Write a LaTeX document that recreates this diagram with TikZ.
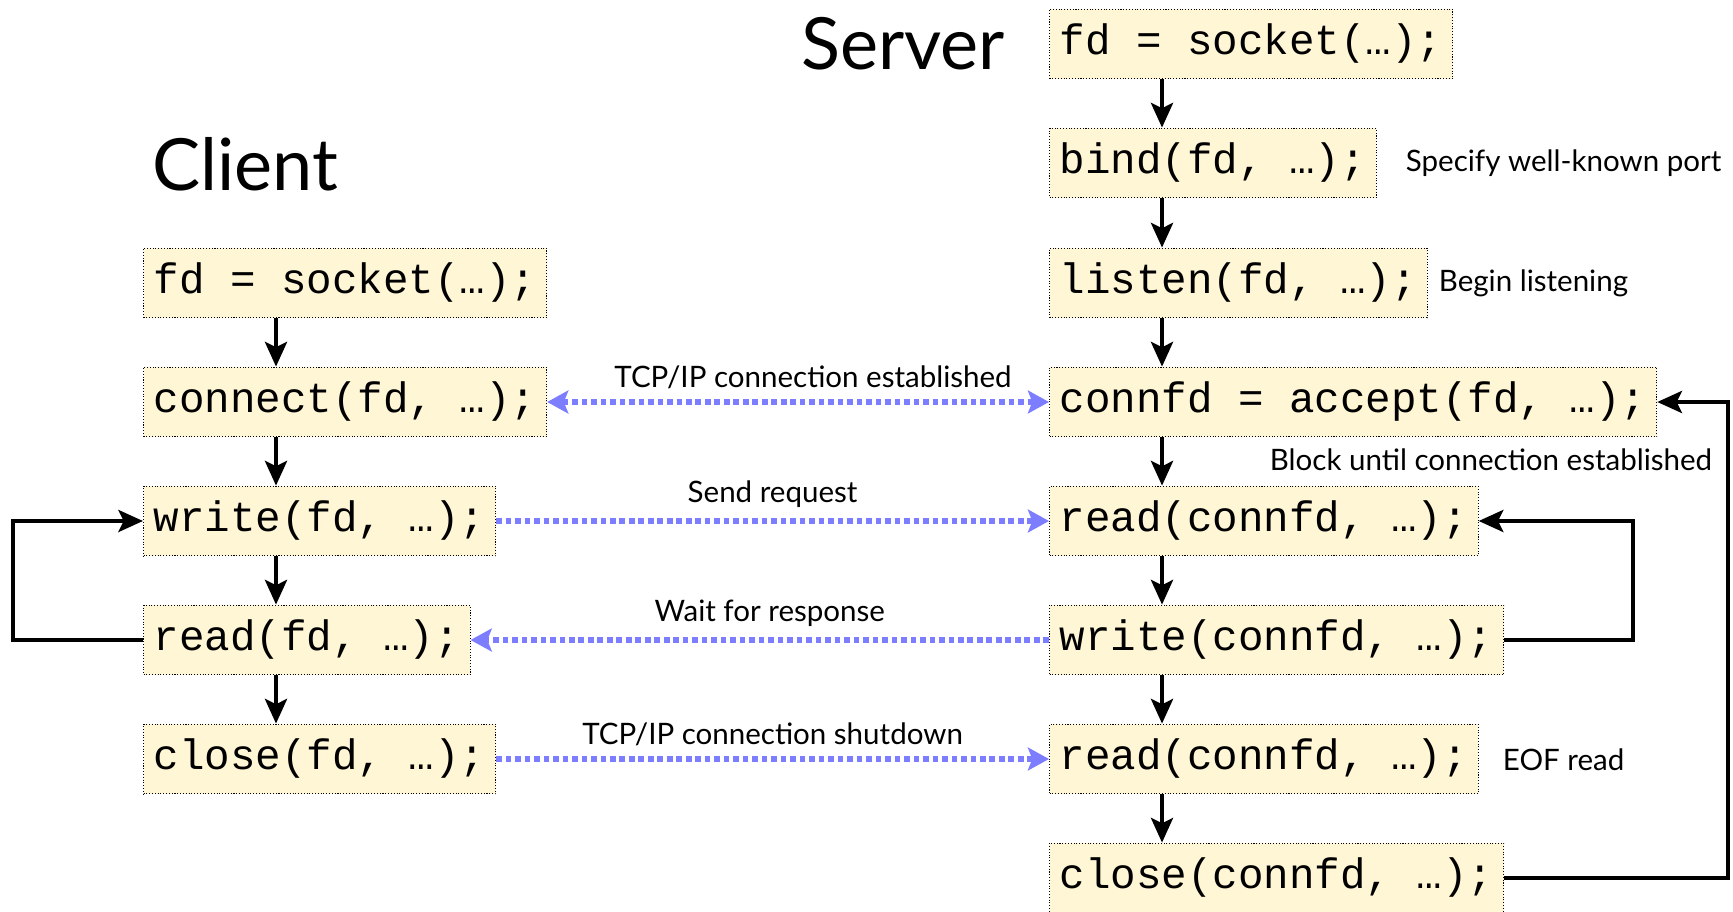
\documentclass[tikz,border=0pt]{standalone}
\usepackage{fontspec}
\setmainfont{Lato}
\setmonofont{Liberation Mono}
\usetikzlibrary{arrows.meta}
\definecolor{boxfill}{RGB}{255,246,214}
\definecolor{linkblue}{RGB}{125,125,255}
\tikzset{nethead/.tip={Stealth[length=12pt,width=13pt,inset=2.5pt]}}
\begin{document}
\begin{tikzpicture}[x=0.02cm,y=-0.02cm,
        callbox/.style={draw,densely dotted,line width=0.6pt,fill=boxfill,anchor=west,
            inner xsep=5.8pt,inner ysep=0pt,minimum height=39.7pt,
            text height=16pt,text depth=4pt,
            font=\ttfamily\fontsize{24.2}{28}\selectfont},
        callarrow/.style={line width=2.5pt,-{Stealth[length=14pt,width=12.5pt,inset=3pt]}},
        netlink/.style={linkblue,line width=3pt,dash pattern=on 3.2pt off 2.2pt},
        sidenote/.style={font=\fontsize{16.8}{20}\selectfont,inner sep=2pt},
        headlabel/.style={font=\fontsize{41}{48}\selectfont}]
        \useasboundingbox (0,0) rectangle (1733,912);
        \node[headlabel] (server) at (903,44) {Server};
        \node[headlabel] (client) at (245,164) {Client};
        \node[callbox] (csocket) at (143,283) {fd = socket(…);};
        \node[callbox] (cconnect) at (143,402) {connect(fd, …);};
        \node[callbox] (cwrite) at (143,521) {write(fd, …);};
        \node[callbox] (cread) at (143,640) {read(fd, …);};
        \node[callbox] (cclose) at (143,759) {close(fd, …);};
        \node[callbox] (ssocket) at (1049,44) {fd = socket(…);};
        \node[callbox] (sbind) at (1049,163) {bind(fd, …);};
        \node[callbox] (slisten) at (1049,283) {listen(fd, …);};
        \node[callbox] (saccept) at (1049,402) {connfd = accept(fd, …);};
        \node[callbox] (sread) at (1049,521) {read(connfd, …);};
        \node[callbox] (swrite) at (1049,640) {write(connfd, …);};
        \node[callbox] (seof) at (1049,759) {read(connfd, …);};
        \node[callbox] (sclose) at (1049,878) {close(connfd, …);};
        \node[sidenote,anchor=west] (nbind) at (1402,163) {Specify well-known port};
        \node[sidenote,anchor=west] (nlisten) at (1435,283) {Begin listening};
        \node[sidenote,anchor=east] (naccept) at (1716,460) {Block until connection established};
        \node[sidenote,anchor=west] (neof) at (1499,760) {EOF read};
        \coordinate (cx) at (276,0);
        \coordinate (sx) at (1162,0);
        \coordinate (lx) at (13,0);
        \coordinate (rx) at (1633,0);
        \coordinate (rrx) at (1728,0);
        \foreach \a/\b in {csocket/cconnect,cconnect/cwrite,cwrite/cread,cread/cclose}
            \draw[callarrow] (\a.south -| cx) -- (\b.north -| cx);
        \foreach \a/\b in {ssocket/sbind,sbind/slisten,slisten/saccept,saccept/sread,sread/swrite,swrite/seof,seof/sclose}
            \draw[callarrow] (\a.south -| sx) -- (\b.north -| sx);
        \draw[callarrow] (cread.west) -- (cread.west -| lx) |- (cwrite.west);
        \draw[callarrow] (swrite.east) -- (swrite.east -| rx) |- (sread.east);
        \draw[callarrow] (sclose.east) -- (sclose.east -| rrx) |- (saccept.east);
        \draw[netlink,nethead-nethead] (cconnect.east) -- node[sidenote,black,above=4pt,xshift=0.3cm] {TCP/IP connection established} (saccept.west);
        \draw[netlink,-nethead] (cwrite.east) -- node[sidenote,black,above=4pt] {Send request} (sread.west);
        \draw[netlink,-nethead] (swrite.west) -- node[sidenote,black,above=4pt,xshift=0.2cm] {Wait for response} (cread.east);
        \draw[netlink,-nethead] (cclose.east) -- node[sidenote,black,above=4pt] {TCP/IP connection shutdown} (seof.west);
    \end{tikzpicture}
\end{document}
